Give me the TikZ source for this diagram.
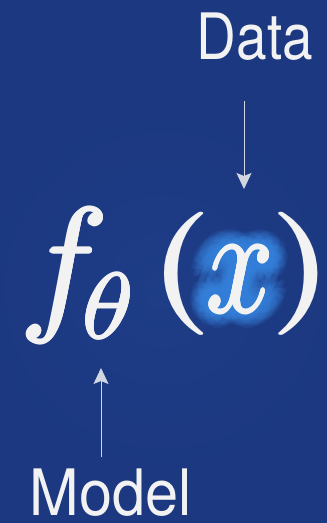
\RequirePackage{fix-cm}
\documentclass[tikz,border=0pt]{standalone}
\usepackage{bm}
\usepackage{fontspec}
\setsansfont{TeX Gyre Heros}
\usetikzlibrary{arrows.meta, calc}
\definecolor{bgblue}{HTML}{1B3880}
\definecolor{bglight}{HTML}{1E3D87}
\definecolor{inkwhite}{HTML}{F2F2F2}
\definecolor{glowblue}{HTML}{3A86E0}
\tikzset{
    label text/.style={inner sep=0pt, text=inkwhite, font=\sffamily\fontsize{64}{64}\selectfont},
    math glyph/.style={inner sep=0pt, text=inkwhite},
    flow/.style={draw=inkwhite!85!bgblue, line width=1pt,
        -{Stealth[length=16pt, width=15pt, inset=3pt]}},
    glow/.style={inner sep=0pt, text=glowblue, opacity=0.11}
}
% glyph: horizontal scale, size, math content
\newcommand{\mglyph}[3]{\scalebox{#1}[1]{\fontsize{#2}{#2}\selectfont$#3$}}
% heavier glyph: name, position, anchor, content
\newcommand{\heavyglyph}[4]{%
    \foreach \a in {0,45,...,315}
        \node[math glyph, anchor=#3] at ($(#2)+(\a:1.2)$) {#4};
    \node[math glyph, anchor=#3] (#1) at (#2) {#4};
}

\begin{document}
\begin{tikzpicture}[x=1pt, y=-1pt]
    \useasboundingbox (0,0) rectangle (327,523);

    % Background with a soft light centre
    \fill[bgblue] (0,0) rectangle (327,523);
    \begin{scope}
        \clip (0,0) rectangle (327,523);
        \shade[inner color=bglight, outer color=bgblue] (163,290) circle (190);
    \end{scope}

    % 1. Labels
    \node[label text, anchor=base] (data) at (255,59) {\scalebox{0.86}[1]{Data}};
    \node[label text, anchor=base] (model) at (111,515) {\scalebox{0.93}[1]{Model}};

    % 2. The glow behind x
    \foreach \r in {3,5,...,15}
        \foreach \a in {0,30,...,330}
            \node[glow, anchor=base] at ($(240,312)+(\a:\r)$) {\mglyph{0.8}{151}{\bm{x}}};

    % 3. The formula f_theta(x)
    \heavyglyph{f}{20,313}{base west}{\mglyph{1}{150}{f}}
    \heavyglyph{theta}{108,338}{base}{\mglyph{1.15}{92}{\theta}}
    \node[math glyph, anchor=north] (lparen) at (181,212) {\mglyph{1.2}{123}{\bm{(}}};
    \heavyglyph{x}{240,312}{base}{\mglyph{0.8}{151}{x}}
    \node[math glyph, anchor=north] (rparen) at (302,212) {\mglyph{1.2}{123}{\bm{)}}};

    % 4. Arrows
    \coordinate (datatail) at (244,101);
    \coordinate (datahead) at (244,189);
    \coordinate (modeltail) at (101,457);
    \coordinate (modelhead) at (101,368);
    \draw[flow] (datatail) -- (datahead);
    \draw[flow] (modeltail) -- (modelhead);

\end{tikzpicture}
\end{document}
